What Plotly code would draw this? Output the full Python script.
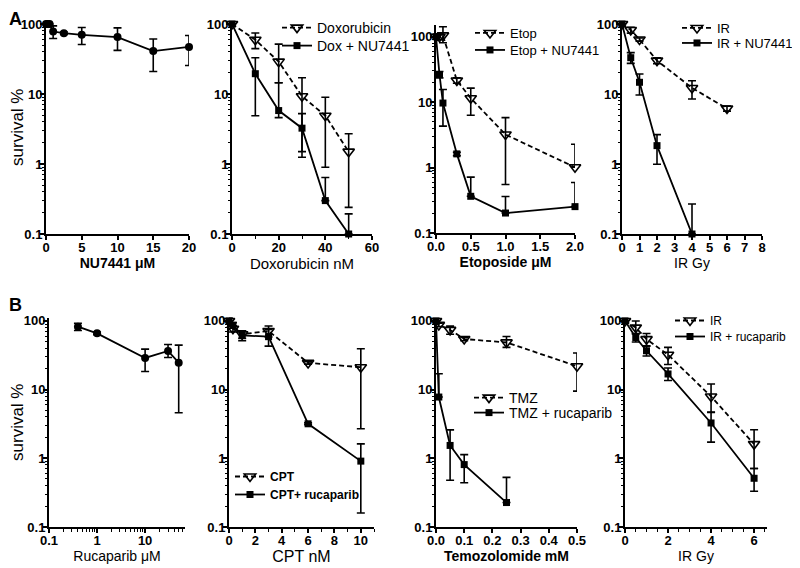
import plotly.graph_objects as go

# The page body has an 8px margin, so the figure is drawn 8px in from the
# window corner; positions below are given in window pixels and shifted.
OFF = 8
W, H = 792, 560

# ---------------- data ----------------
# A1: NU7441 alone
nu_x = [0, 0.25, 0.5, 1, 2.5, 5, 10, 15, 20]
nu_y = [100, 100, 100, 78, 74, 70, 65, 41, 47]
nu_up = [0, 0, 0, 16, 3, 19, 23, 20, 21.5]
nu_dn = [0, 0, 0, 16, 3, 19, 23, 20, 21.5]

# A2: Doxorubicin
dox_x = [0, 10, 20, 30, 40, 50]
dox_y = [100, 59.5, 29, 9.3, 4.9, 1.5]
dox_up = [0, 15, 22.5, 7.8, 4.1, 1.2]
dox_dn = [0, 15, 14.5, 7.8, 4.0, 1.26]
doxnu_y = [100, 19.5, 5.8, 3.25, 0.30, 0.1]
doxnu_up = [0, 13.5, 8.7, 2.0, 0.34, 0.094]
doxnu_dn = [0, 14.6, 1.2, 2.0, 0, 0]

# A3: Etoposide
etop_x = [0, 0.05, 0.1, 0.3, 0.5, 1.0, 2.0]
etop_y = [100, 100, 105, 21.5, 11.5, 3.2, 1.01]
etop_up = [0, 10, 37, 2, 4.9, 2.6, 1.27]
etop_dn = [0, 10, 24, 2, 5.2, 2.65, 0]
etopnu_y = [100, 26.5, 9.7, 1.62, 0.364, 0.202, 0.253]
etopnu_up = [0, 3, 5.9, 0.1, 0.35, 0.16, 0.34]
etopnu_dn = [0, 3, 5.4, 0.1, 0, 0, 0]

# A4: IR + NU7441
ir_x = [0, 0.5, 1, 2, 4, 6]
ir_y = [100, 82, 60, 30, 12.2, 6.2]
ir_up = [0, 8, 3, 3, 3.3, 0.5]
ir_dn = [0, 8, 3, 3, 3.7, 0.5]
irnu_x = [0, 0.5, 1, 2, 4]
irnu_y = [100, 33, 14.7, 1.83, 0.1]
irnu_up = [0, 6, 4.6, 0.8, 0.168]
irnu_dn = [0, 5.6, 5, 0.84, 0]

# B1: Rucaparib alone
ruc_x = [0.4, 1, 10, 30, 50]
ruc_y = [82.6, 65.9, 28.9, 36.6, 24.7]
ruc_up = [10, 3, 10, 8.8, 19.7]
ruc_dn = [10, 3, 10.5, 7.3, 20.1]

# B2: CPT
cpt_x = [0, 0.3, 1, 3, 6, 10]
cpt_y = [100, 77, 64, 71.4, 24.5, 21.2]
cpt_up = [0, 8, 8, 13, 1, 18.2]
cpt_dn = [0, 8, 8, 13, 1, 18.5]
cptr_y = [100, 86.4, 61.7, 59, 3.18, 0.91]
cptr_up = [12, 8, 10, 16, 0.1, 0.71]
cptr_dn = [12, 8, 10, 16, 0.1, 0.75]

# B3: Temozolomide
tmz_x = [0, 0.01, 0.05, 0.1, 0.25, 0.5]
tmz_y = [100, 87.5, 74, 54.5, 48.7, 21.9]
tmz_up = [0, 5, 10, 3, 10.7, 12.3]
tmz_dn = [0, 5, 10, 3, 7.5, 12.4]
tmzr_x = [0, 0.01, 0.05, 0.1, 0.25]
tmzr_y = [100, 7.8, 1.54, 0.81, 0.227]
tmzr_up = [0, 9.2, 1.05, 0.32, 0.30]
tmzr_dn = [0, 0, 1.06, 0.37, 0]

# B4: IR + rucaparib
ir2_x = [0, 0.5, 1, 2, 4, 6]
ir2_y = [100, 80, 54.3, 32.2, 7.95, 1.61]
ir2_up = [0, 20, 11.3, 9, 4.1, 1.0]
ir2_dn = [0, 15, 10.8, 9, 3.3, 0.9]
irr_y = [100, 57.4, 36.8, 16.9, 3.27, 0.512]
irr_up = [0, 8, 6, 3.7, 1.45, 0.2]
irr_dn = [0, 8, 6, 3.3, 1.55, 0.18]

y_tickvals = [0.1, 1, 10, 100]
y_ticktext = ["0.1", "1", "10", "100"]

FONT = "Liberation Sans, Arial, sans-serif"

fig = go.Figure()


def add_series(ax, x, y, up, dn, name, kind, legend=None):
    if kind == "open":
        marker = dict(symbol="triangle-down-open", size=10, color="black",
                      line=dict(width=1.6, color="black"))
        line = dict(color="black", width=1.8, dash="5px,3px")
    elif kind == "square":
        marker = dict(symbol="square", size=7, color="black")
        line = dict(color="black", width=1.8)
    else:
        marker = dict(symbol="circle", size=8, color="black")
        line = dict(color="black", width=1.8)
    fig.add_trace(go.Scatter(
        x=x, y=y, mode="lines+markers", name=name, marker=marker, line=line,
        error_y=dict(type="data", symmetric=False, array=up, arrayminus=dn,
                     color="black", thickness=1.6, width=4),
        xaxis="x" + ("" if ax == 1 else str(ax)),
        yaxis="y" + ("" if ax == 1 else str(ax)),
        showlegend=legend is not None,
        legend=legend if legend else "legend",
        cliponaxis=False,
    ))


add_series(1, nu_x, nu_y, nu_up, nu_dn, "NU7441", "circle")
add_series(2, dox_x, dox_y, dox_up, dox_dn, "Doxorubicin", "open", "legend")
add_series(2, dox_x, doxnu_y, doxnu_up, doxnu_dn, "Dox + NU7441", "square", "legend2")
add_series(3, etop_x, etop_y, etop_up, etop_dn, "Etop", "open", "legend3")
add_series(3, etop_x, etopnu_y, etopnu_up, etopnu_dn, "Etop + NU7441", "square", "legend4")
add_series(4, ir_x, ir_y, ir_up, ir_dn, "IR", "open", "legend5")
add_series(4, irnu_x, irnu_y, irnu_up, irnu_dn, "IR + NU7441", "square", "legend6")
add_series(5, ruc_x, ruc_y, ruc_up, ruc_dn, "Rucaparib", "circle")
add_series(6, cpt_x, cpt_y, cpt_up, cpt_dn, "CPT", "open", "legend7")
add_series(6, cpt_x, cptr_y, cptr_up, cptr_dn, "CPT+ rucaparib", "square", "legend8")
add_series(7, tmz_x, tmz_y, tmz_up, tmz_dn, "TMZ", "open", "legend9")
add_series(7, tmzr_x, tmzr_y, tmzr_up, tmzr_dn, "TMZ + rucaparib", "square", "legend10")
add_series(8, ir2_x, ir2_y, ir2_up, ir2_dn, "IR", "open", "legend11")
add_series(8, ir2_x, irr_y, irr_up, irr_dn, "IR + rucaparib", "square", "legend12")


def xd(l, r):
    return [(l - OFF) / W, (r - OFF) / W]


def yd(top, bot):
    return [1 - (bot - OFF) / H, 1 - (top - OFF) / H]


tickfont = dict(family=FONT, size=13, color="black", weight="bold")
common_axis = dict(showline=True, linecolor="black", linewidth=2, ticks="outside",
                   ticklen=4, tickwidth=1.5, tickcolor="black", showgrid=False,
                   zeroline=False, tickfont=tickfont, automargin=False)
minor_log = dict(ticks="outside", ticklen=2.5, tickwidth=1, tickcolor="black",
                 showgrid=False, dtick="D1")


def lin_minor(d):
    return dict(ticks="outside", ticklen=2.5, tickwidth=1, tickcolor="black", dtick=d)


panels = [
    dict(xd=(46, 189), yd=(20.5, 234), xr=[0, 20], xt=dict(tickvals=[0, 5, 10, 15, 20]),
         title="NU7441 μM", tsize=14, bold=True, ytitle="survival %", yr=[-1, 2.05]),
    dict(xd=(232, 372), yd=(20.5, 234), xr=[0, 60],
         xt=dict(tickvals=[0, 20, 40, 60], minor=lin_minor(10)),
         title="Doxorubicin nM", tsize=15, bold=False, ytitle=None, yr=[-1, 2.05]),
    dict(xd=(436, 575), yd=(25, 233), xr=[0, 2],
         xt=dict(tickvals=[0, 0.5, 1, 1.5, 2], tickformat=".1f"),
         title="Etoposide μM", tsize=14, bold=True, ytitle=None, yr=[-1, 2.18]),
    dict(xd=(622, 762), yd=(20.5, 234), xr=[0, 8], xt=dict(dtick=1, tick0=0),
         title="IR Gy", tsize=14, bold=False, ytitle=None, yr=[-1, 2.05]),
    dict(xd=(49, 185), yd=(317.5, 527), xr=[-1, 1.83],
         xt=dict(type="log", tickvals=[0.1, 1, 10], ticktext=["0.1", "1", "10"], minor=minor_log),
         title="Rucaparib μM", tsize=14, bold=False, ytitle="survival %", yr=[-1, 2.05]),
    dict(xd=(229, 374), yd=(317.5, 527), xr=[0, 11],
         xt=dict(tickvals=[0, 2, 4, 6, 8, 10], minor=lin_minor(1)),
         title="CPT nM", tsize=16, bold=False, ytitle=None, yr=[-1, 2.05]),
    dict(xd=(436, 577), yd=(317.5, 527), xr=[0, 0.5], xt=dict(dtick=0.1, tick0=0, tickformat=".1f"),
         title="Temozolomide mM", tsize=14, bold=True, ytitle=None, yr=[-1, 2.05]),
    dict(xd=(625, 767), yd=(317.5, 527), xr=[0, 6.6],
         xt=dict(tickvals=[0, 2, 4, 6], minor=lin_minor(0.5)),
         title="IR Gy", tsize=14, bold=False, ytitle=None, yr=[-1, 2.05]),
]

layout_axes = {}
for i, p in enumerate(panels, start=1):
    suffix = "" if i == 1 else str(i)
    xa = dict(common_axis)
    xa.update(domain=xd(*p["xd"]), anchor="y" + suffix, range=p["xr"], ticklabelstandoff=-4)
    xa.update(p["xt"])
    xa["title"] = dict(text=p["title"], standoff=0,
                       font=dict(family=FONT, size=p["tsize"], color="black",
                                 weight="bold" if p["bold"] else "normal"))
    ya = dict(common_axis)
    ya.update(domain=yd(*p["yd"]), anchor="x" + suffix, type="log", range=p["yr"],
              tickvals=y_tickvals, ticktext=y_ticktext, minor=minor_log, ticklabelstandoff=-5)
    if p["ytitle"]:
        ya["title"] = dict(text=p["ytitle"], standoff=2,
                           font=dict(family=FONT, size=17, color="black"))
    layout_axes["xaxis" + suffix] = xa
    layout_axes["yaxis" + suffix] = ya


def leg(text_left, row_center, size, bold=False):
    # one legend box per series; positions in window pixels
    return dict(x=(text_left - 38 - OFF) / W, y=1 - (row_center - 15 - OFF) / H,
                xanchor="left", yanchor="top",
                bgcolor="rgba(0,0,0,0)", borderwidth=0,
                font=dict(family=FONT, size=size, color="black",
                          weight="bold" if bold else "normal"),
                itemwidth=30)


legends = dict(
    legend=leg(315, 27, 14), legend2=leg(315, 45, 14),
    legend3=leg(508, 33, 13), legend4=leg(508, 50, 13),
    legend5=leg(715, 28, 13), legend6=leg(715, 43, 13),
    legend7=leg(268, 477, 12, True), legend8=leg(268, 495, 12, True),
    legend9=leg(507, 397, 14), legend10=leg(507, 412, 14),
    legend11=leg(708, 321, 12), legend12=leg(708, 337, 12),
)

fig.update_layout(
    width=W, height=H,
    margin=dict(l=0, r=0, t=0, b=0),
    paper_bgcolor="white", plot_bgcolor="white",
    font=dict(family=FONT, color="black"),
    annotations=[
        dict(text="A", x=0, y=1, xref="paper", yref="paper",
             xanchor="left", yanchor="top", showarrow=False, borderpad=0,
             font=dict(family=FONT, size=18, color="black", weight="bold")),
        dict(text="B", x=0, y=1 - (294 - OFF) / H, xref="paper", yref="paper",
             xanchor="left", yanchor="top", showarrow=False, borderpad=0,
             font=dict(family=FONT, size=18, color="black", weight="bold")),
    ],
    **legends,
    **layout_axes,
)

fig.write_html("out.html")
